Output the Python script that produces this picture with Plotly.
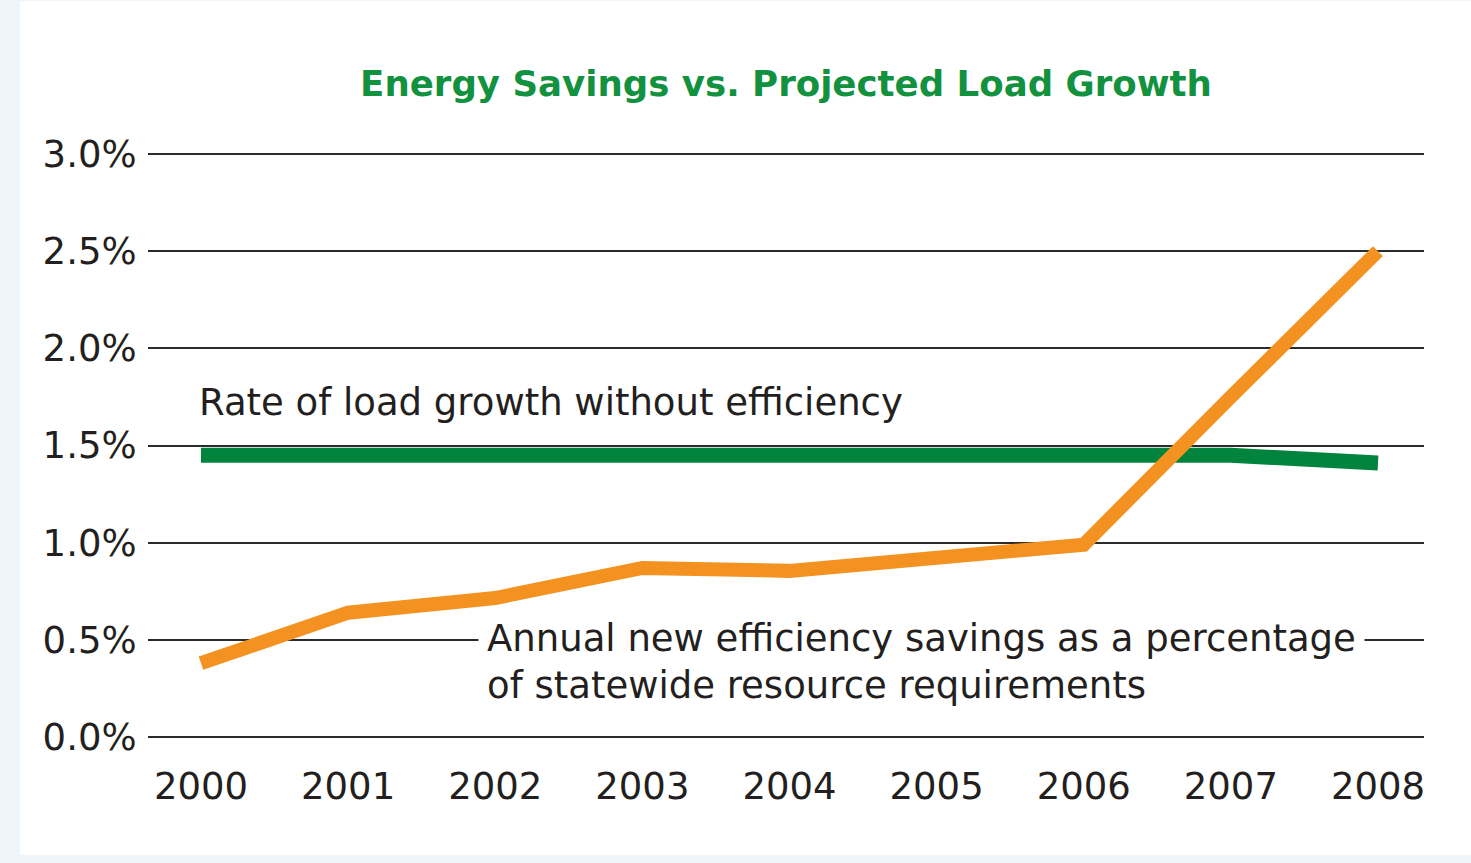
import plotly.graph_objects as go

years = [2000, 2001, 2002, 2003, 2004, 2005, 2006, 2007, 2008]
savings_pct = [0.38, 0.64, 0.715, 0.87, 0.855, 0.92, 0.99, 1.75, 2.50]
load_growth_pct = [1.45, 1.45, 1.45, 1.45, 1.45, 1.45, 1.45, 1.45, 1.41]
y_ticks = [0.0, 0.5, 1.0, 1.5, 2.0, 2.5, 3.0]
y_tick_labels = ["0.0%", "0.5%", "1.0%", "1.5%", "2.0%", "2.5%", "3.0%"]
title_text = "Energy Savings vs. Projected Load Growth"
load_label = "Rate of load growth without efficiency"
savings_label_1 = "Annual new efficiency savings as a percentage"
savings_label_2 = "of statewide resource requirements"

GREEN = "#00843D"
ORANGE = "#F39221"
TEXT = "#231F20"
FONT = "DejaVu Sans"

fig = go.Figure()
fig.add_trace(go.Scatter(x=years, y=load_growth_pct, mode="lines",
                         line=dict(color=GREEN, width=15), hoverinfo="skip"))
fig.add_trace(go.Scatter(x=years, y=savings_pct, mode="lines",
                         line=dict(color=ORANGE, width=14), hoverinfo="skip"))

fig.add_annotation(x=1999.973, y=1.72, xref="x", yref="y", text=load_label,
                   showarrow=False, xanchor="left", yanchor="middle",
                   font=dict(family=FONT, size=37, color=TEXT))
fig.add_annotation(x=2001.8857, y=0.505, xref="x", yref="y", text=savings_label_1,
                   showarrow=False, xanchor="left", yanchor="middle",
                   bgcolor="white", borderpad=8,
                   font=dict(family=FONT, size=37, color=TEXT))
fig.add_annotation(x=2001.9333, y=0.263, xref="x", yref="y", text=savings_label_2,
                   showarrow=False, xanchor="left", yanchor="middle",
                   font=dict(family=FONT, size=37, color=TEXT))

fig.add_shape(type="rect", xref="paper", yref="paper",
              x0=-0.1003, x1=1.1, y0=-0.197, y1=1.2573,
              fillcolor="white", line=dict(width=0), layer="below")

fig.update_layout(
    width=1471, height=863,
    margin=dict(l=148, r=47, t=152, b=124),
    paper_bgcolor="#EEF5FB",
    plot_bgcolor="white",
    showlegend=False,
    title=dict(text="<b>" + title_text + "</b>", x=0.5, xref="paper",
               y=(863 - 84) / 863, yref="container", xanchor="center", yanchor="middle",
               font=dict(family=FONT, size=35.6, color="#12913F")),
    xaxis=dict(range=[1999.64, 2008.3127], tickmode="array", tickvals=years,
               ticktext=[str(y) for y in years], showgrid=False, zeroline=False,
               showline=False, ticks="outside", ticklen=15, tickcolor="rgba(0,0,0,0)",
               tickfont=dict(family=FONT, size=37, color=TEXT), fixedrange=True),
    yaxis=dict(range=[-0.01, 3.01], tickmode="array", tickvals=y_ticks, ticktext=y_tick_labels,
               showgrid=True, gridcolor="#2b2b2b", gridwidth=2, zeroline=False,
               showline=False, ticks="outside", ticklen=3, tickcolor="rgba(0,0,0,0)",
               tickfont=dict(family=FONT, size=37, color=TEXT), fixedrange=True),
)

fig.write_html("out.html", config={"displayModeBar": False},
               post_script="document.body.style.margin='0';document.body.style.padding='0';document.body.style.overflow='hidden';")
